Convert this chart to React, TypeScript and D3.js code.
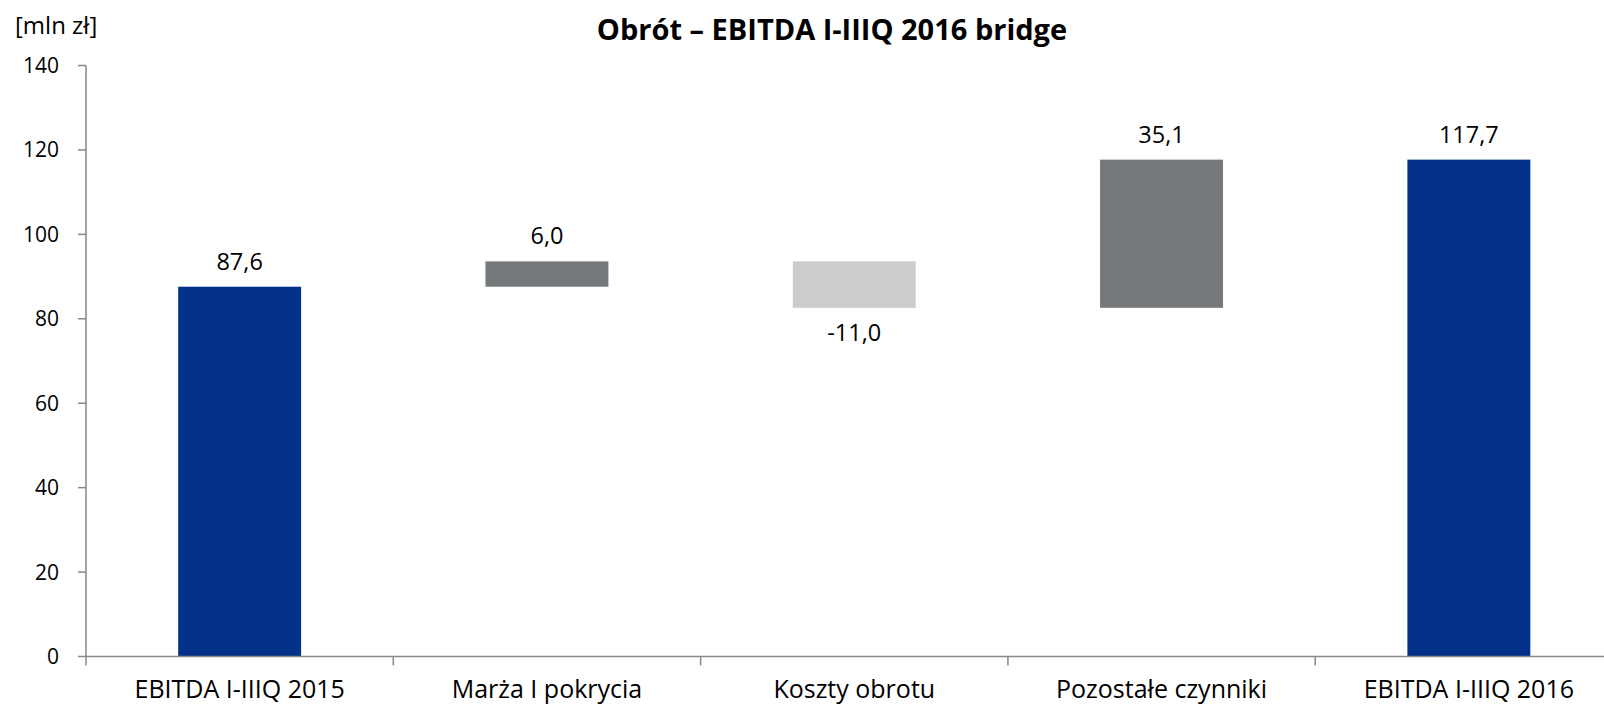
import React from "react";
import * as d3 from "d3";

const categories = ["EBITDA I-IIIQ 2015", "Marża I pokrycia", "Koszty obrotu", "Pozostałe czynniki", "EBITDA I-IIIQ 2016"];
const values = [87.6, 6.0, -11.0, 35.1, 117.7];
const kinds = ["total", "delta", "delta", "delta", "total"];
const valueLabels = ["87,6", "6,0", "-11,0", "35,1", "117,7"];
const yTicks = [0, 20, 40, 60, 80, 100, 120, 140];

const W = 1604;
const H = 705;
const FONT = "'Open Sans', 'Noto Sans', sans-serif";

export default function App() {
  const x0 = 86;
  const step = 307.3;
  const xBand = d3.scaleBand<string>().domain(categories).range([x0, x0 + step * categories.length]).paddingInner(0.6).paddingOuter(0.3);
  const xOuter = d3.scaleBand<string>().domain(categories).range([x0, x0 + step * categories.length]).padding(0);
  const y = d3.scaleLinear().domain([0, 140]).range([656.5, 65.5]);

  let running = 0;
  const bars = categories.map((c, i) => {
    let lo: number, hi: number;
    if (kinds[i] === "total") {
      lo = 0; hi = values[i]; running = values[i];
    } else {
      const start = running; const end = running + values[i];
      lo = Math.min(start, end); hi = Math.max(start, end); running = end;
    }
    const color = kinds[i] === "total" ? "#03318A" : values[i] >= 0 ? "#75787B" : "#CBCCCB";
    return { c, i, lo, hi, color, neg: values[i] < 0 };
  });

  return (
    <svg width={W} height={H} style={{ position: "absolute", left: 0, top: 0, background: "#fff" }} fontFamily={FONT}>
      <text x={832} y={40} textAnchor="middle" fontSize={29} fontWeight={700} fill="#000">Obrót – EBITDA I-IIIQ 2016 bridge</text>
      <text x={15} y={34} fontSize={24} fill="#000">[mln zł]</text>
      {/* y axis */}
      <line x1={x0} x2={x0} y1={y(140)} y2={y(0)} stroke="#898989" strokeWidth={1.5} />
      {yTicks.map((t) => (
        <g key={t}>
          <line x1={x0 - 8} x2={x0} y1={y(t)} y2={y(t)} stroke="#898989" strokeWidth={1.5} />
          <text x={59} y={y(t) + 7.5} textAnchor="end" fontSize={21} fill="#000">{t}</text>
        </g>
      ))}
      {/* bars */}
      {bars.map((b) => (
        <rect key={b.c} x={xBand(b.c)} width={xBand.bandwidth()} y={y(b.hi)} height={y(b.lo) - y(b.hi)} fill={b.color} />
      ))}
      {/* value labels */}
      {bars.map((b) => (
        <text key={"l" + b.c} x={(xBand(b.c) as number) + xBand.bandwidth() / 2} y={b.neg ? y(b.lo) + 33 : y(b.hi) - 17} textAnchor="middle" fontSize={23.5} fill="#000">{valueLabels[b.i]}</text>
      ))}
      {/* x axis */}
      <line x1={x0} x2={W} y1={y(0)} y2={y(0)} stroke="#898989" strokeWidth={1.5} />
      {categories.map((c) => (
        <line key={"t" + c} x1={xOuter(c)} x2={xOuter(c)} y1={y(0)} y2={y(0) + 9} stroke="#898989" strokeWidth={1.5} />
      ))}
      {categories.map((c) => (
        <text key={"c" + c} x={(xOuter(c) as number) + xOuter.bandwidth() / 2} y={698} textAnchor="middle" fontSize={25} fill="#000">{c}</text>
      ))}
    </svg>
  );
}
